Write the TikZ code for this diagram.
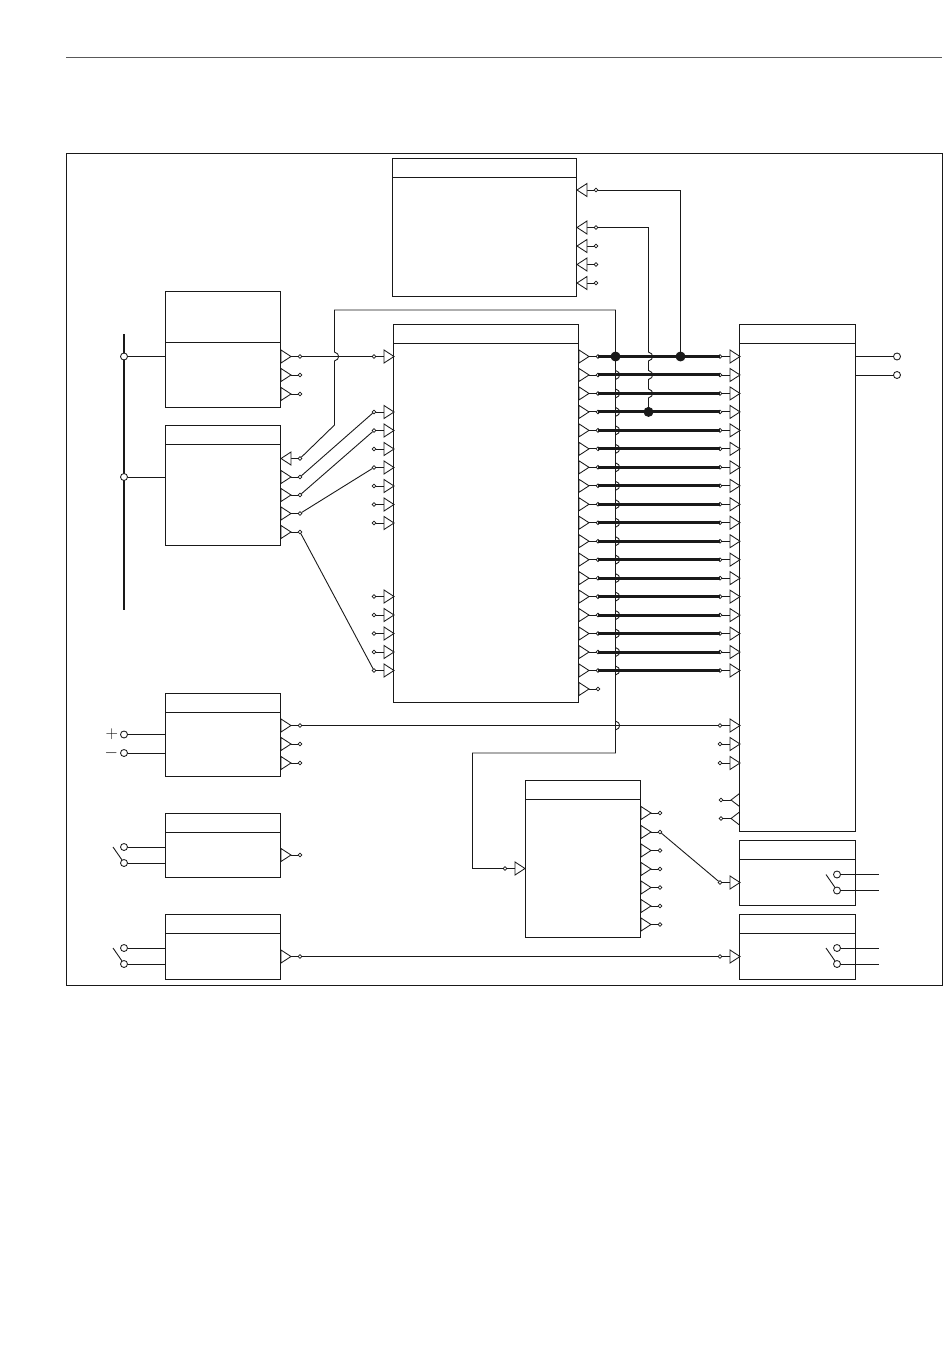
\documentclass[tikz,border=0pt]{standalone}
\usetikzlibrary{positioning}
\definecolor{inkline}{gray}{0.1}
\tikzset{
  block/.style={draw=inkline,line width=0.95pt,anchor=north west,inner sep=0pt,outer sep=0pt},
  portdot/.style={circle,draw=inkline,fill=white,line width=0.7pt,inner sep=0pt,outer sep=0pt,minimum size=3.8pt},
  terminal/.style={circle,draw=inkline,fill=white,line width=0.85pt,inner sep=0pt,outer sep=0pt,minimum size=7pt},
  junction/.style={circle,fill=inkline,draw=inkline,inner sep=0pt,outer sep=0pt,minimum size=9pt},
  sign/.style={inner sep=0pt,font=\fontsize{17}{17}\selectfont},
  bus/.style={line width=3pt},
  pintri/.style={fill=white,line width=0.85pt,line join=miter},
}
% #1 name, #2 left x, #3 top y, #4 width, #5 height, #6 header height
\newcommand{\blockbox}[6]{
  \node[block,minimum width=#4pt,minimum height=#5pt] (#1) at (#2,#3) {};
  \draw[line width=0.95pt] (#1.north west) ++(0,#6) -- ++(#4,0);
}
% pins: #1 name of the dot, #2 x of the triangle's left side, #3 y
\newcommand{\pinout}[3]{
  \node[portdot] (#1) at (#2+19,#3) {};
  \draw (#2+10,#3) -- (#1);
  \draw[pintri] (#2,#3-6.5) -- (#2+10,#3) -- (#2,#3+6.5) -- cycle;
}
\newcommand{\pinin}[3]{
  \node[portdot] (#1) at (#2-10,#3) {};
  \draw (#1) -- (#2,#3);
  \draw[pintri] (#2,#3-6.5) -- (#2+10,#3) -- (#2,#3+6.5) -- cycle;
}
\newcommand{\pinback}[3]{
  \node[portdot] (#1) at (#2+19,#3) {};
  \draw (#2+10,#3) -- (#1);
  \draw[pintri] (#2+10,#3-6.5) -- (#2,#3) -- (#2+10,#3+6.5) -- cycle;
}
\newcommand{\pinbackin}[3]{
  \node[portdot] (#1) at (#2-10,#3) {};
  \draw (#1) -- (#2,#3);
  \draw[pintri] (#2+8.5,#3-6.5) -- (#2,#3) -- (#2+8.5,#3+6.5) -- cycle;
  \draw[line width=1.3pt] (#2+8.5,#3-6.5) -- (#2+8.5,#3+6.5);
}
% switch: #1 prefix, #2 x of terminals, #3 upper y, #4 lower y
\newcommand{\switchleft}[4]{
  \node[terminal] (#1a) at (#2,#3) {};
  \node[terminal] (#1b) at (#2,#4) {};
  \coordinate (#1s) at (#2-11,#3);
  \coordinate (#1e) at (#2-2,#4-3);
  \draw (#1s) -- (#1e);
}
\begin{document}
\begin{tikzpicture}[x=1pt,y=-1pt,color=inkline,line width=0.9pt]
  \useasboundingbox (0,0) rectangle (950,1370);
  \coordinate (ruleL) at (66,57);
  \coordinate (ruleR) at (942,57);
  \draw[draw=black!65,line width=0.8pt] (ruleL) -- (ruleR);
  \node[block,minimum width=876pt,minimum height=832.5pt] (frame) at (66.5,153) {};

  \blockbox{top}{392}{158}{184.5}{138}{19}
  \blockbox{ct}{165}{291.5}{115.5}{116}{50.5}
  \blockbox{vt}{165}{425.5}{115.5}{120}{18.5}
  \blockbox{main}{393}{324.5}{185.5}{378}{18.5}
  \blockbox{out}{739.5}{324.5}{116}{507}{18.5}
  \blockbox{supply}{165}{693.5}{115.5}{83}{18.5}
  \blockbox{reset}{165}{813.5}{115.5}{64}{18.5}
  \blockbox{lockin}{165}{914.5}{115.5}{65}{18.5}
  \blockbox{timer}{525.5}{780.5}{115}{157}{18.5}
  \blockbox{alarm}{739.5}{840.5}{116}{65}{18.5}
  \blockbox{trip}{739.5}{914.5}{116}{65}{18.5}

  % top block
  \pinback{topA}{577}{190}
  \pinback{topB}{577}{227.5}
  \pinback{topC}{577}{246}
  \pinback{topD}{577}{264.5}
  \pinback{topE}{577}{283}

  % left blocks
  \pinout{ctA}{281}{356.5}
  \pinout{ctB}{281}{375}
  \pinout{ctC}{281}{394}
  \pinback{vtF}{281}{458.5}
  \pinout{vtA}{281}{477}
  \pinout{vtB}{281}{495}
  \pinout{vtC}{281}{513.5}
  \pinout{vtD}{281}{532}
  \pinout{supA}{281}{725.5}
  \pinout{supB}{281}{744}
  \pinout{supC}{281}{763}
  \pinout{resA}{281}{855}
  \pinout{lockA}{281}{956.5}

  % main block inputs
  \pinin{mA}{384}{356.5}
  \foreach \n/\y in {B/412,C/430.5,D/449,E/467.5,F/486,G/504.5,H/523,
                     J/596.5,K/615,L/633.5,M/652,N/670.5}
    {\pinin{m\n}{384}{\y}}

  % main outputs and bars to the output block
  \foreach \i [evaluate=\i as \y using 356.5+18.47*\i] in {0,...,17}{
    \pinout{mo\i}{579}{\y}
    \pinin{ri\i}{730}{\y}
    \draw[bus] (mo\i.center) -- (ri\i.center);
    \coordinate (cross\i) at (615.5,\y);
    \coordinate (crosb\i) at (648.5,\y);
  }
  \pinout{moX}{579}{689}

  % lower pins of the output block
  \pinin{riA}{730}{725.5}
  \pinin{riB}{730}{744}
  \pinin{riC}{730}{763}
  \pinbackin{riD}{731}{800}
  \pinbackin{riE}{731}{818.5}
  \pinin{alA}{730}{882.5}
  \pinin{trA}{730}{956.5}

  % timer block
  \pinin{tiA}{515}{868.5}
  \foreach \n/\y in {A/813,B/832,C/850.5,D/869,E/887.5,F/906,G/924.5}
    {\pinout{to\n}{641}{\y}}

  % junctions
  \node[junction] (jA) at (cross0) {};
  \node[junction] (jB) at (680.5,356.5) {};
  \node[junction] (jC) at (cross3 -| crosb3) {};

  % feedback from the voltage block
  \coordinate (fbA) at (615.5,310);
  \coordinate (fbB) at (334.5,310);
  \coordinate (fbC) at (334.5,425);
  \coordinate (hump) at (334.5,356.5);
  \draw (jA) -- (fbA) -- (fbB) -- ([yshift=4.5pt]hump)
    .. controls +(5.5,1.5) and +(5.5,-1.5) .. ([yshift=-4.5pt]hump) -- (fbC) -- (vtF);

  % timer feed running down the bars
  \coordinate (cross18) at (615.5,725.5);
  \coordinate (feedA) at (615.5,753);
  \coordinate (feedB) at (472.5,753);
  \coordinate (feedC) at (472.5,868.5);
  \draw (jA) foreach \i in {1,...,18}
      {-- ([yshift=4.5pt]cross\i) .. controls +(5.5,1.5) and +(5.5,-1.5) .. ([yshift=-4.5pt]cross\i)}
    -- (feedA) -- (feedB) -- (feedC) -- (tiA);

  % top block returns
  \coordinate (retA) at (680.5,190);
  \coordinate (retB) at (648.5,227.5);
  \draw (topA) -- (retA) -- (jB);
  \draw (topB) -- (retB) foreach \i in {0,1,2}
      {-- ([yshift=4.5pt]crosb\i) .. controls +(5.5,1.5) and +(5.5,-1.5) .. ([yshift=-4.5pt]crosb\i)}
    -- (jC);

  % signal wires
  \draw (ctA) -- (mA);
  \draw (vtA) -- (mB);
  \draw (vtB) -- (mC);
  \draw (vtC) -- (mE);
  \draw (vtD) -- (mN);
  \draw (supA) -- (riA);
  \draw (toB) -- (alA);
  \draw (lockA) -- (trA);

  % bus bar on the left
  \coordinate (barT) at (124,334);
  \coordinate (barB) at (124,610);
  \draw[line width=1.8pt] (barT) -- (barB);
  \node[terminal] (ctT) at (124,356.5) {};
  \node[terminal] (vtT) at (124,477) {};
  \draw (ctT) -- (ctT -| ct.west);
  \draw (vtT) -- (vtT -| vt.west);

  % supply terminals
  \node[terminal] (supP) at (124,734.5) {};
  \node[terminal] (supN) at (124,753) {};
  \node[sign,left=2pt of supP] (plus) {$+$};
  \node[sign,left=2pt of supN] (minus) {$-$};
  \draw (supP) -- (supP -| supply.west);
  \draw (supN) -- (supN -| supply.west);

  % switches
  \switchleft{rs}{124}{847}{863}
  \draw (rsa) -- (rsa -| reset.west);
  \draw (rsb) -- (rsb -| reset.west);
  \switchleft{lk}{124}{948}{964}
  \draw (lka) -- (lka -| lockin.west);
  \draw (lkb) -- (lkb -| lockin.west);
  \switchleft{al}{837}{874.5}{890.5}
  \coordinate (alwA) at (879,874.5);
  \coordinate (alwB) at (879,890.5);
  \draw (ala) -- (alwA);
  \draw (alb) -- (alwB);
  \switchleft{tr}{837}{948}{964}
  \coordinate (trwA) at (879,948);
  \coordinate (trwB) at (879,964);
  \draw (tra) -- (trwA);
  \draw (trb) -- (trwB);

  % outputs of the output block
  \node[terminal] (oA) at (897,356.5) {};
  \node[terminal] (oB) at (897,375) {};
  \draw (oA -| out.east) -- (oA);
  \draw (oB -| out.east) -- (oB);
\end{tikzpicture}
\end{document}
